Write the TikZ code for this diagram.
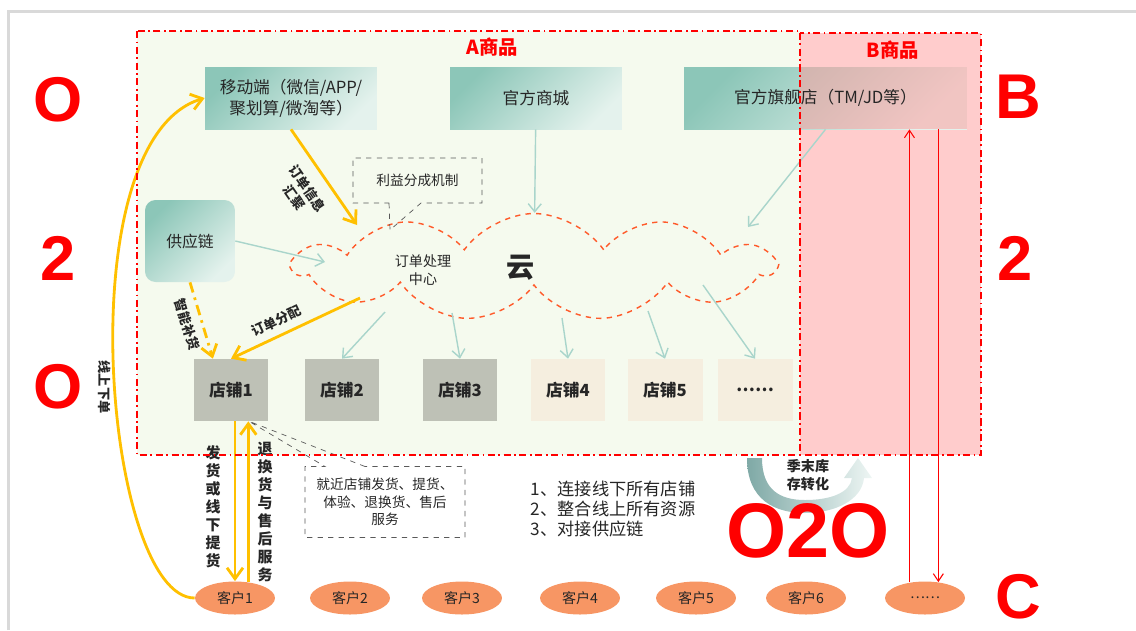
\documentclass[tikz,border=0pt]{standalone}
\usepackage{fontspec}
\setmainfont{Noto Sans CJK SC}
\newfontfamily\bigfont{Liberation Sans}
\usepackage{tikz}
\usetikzlibrary{shapes.geometric, shapes.symbols, shapes.callouts, arrows.meta, positioning, calc}

\definecolor{bgA}{HTML}{F5FAEE}
\definecolor{bgB}{HTML}{FFCCCC}
\definecolor{tealdark}{HTML}{8CC6B8}
\definecolor{teallight}{HTML}{E4F2ED}
\definecolor{storegray}{HTML}{BEC1B6}
\definecolor{storebeige}{HTML}{F5EEDF}
\definecolor{custorange}{HTML}{F79664}
\definecolor{arrteal}{HTML}{A9D5CB}
\definecolor{arryel}{HTML}{FFC000}
\definecolor{cloudline}{HTML}{FF5A2A}
\definecolor{txtdark}{HTML}{262626}
\definecolor{turndark}{HTML}{7FA9A6}
\definecolor{turnlight}{HTML}{EEF6F4}

\begin{document}
\begin{tikzpicture}[
    x=0.02cm, y=-0.02cm,
    every node/.style={text=txtdark, inner sep=2pt},
    topbox/.style={rectangle, top color=tealdark, bottom color=teallight, shading angle=45,
                   minimum height=1.24cm, align=center, font=\fontsize{9.5}{12}\selectfont},
    store/.style={rectangle, fill=#1, minimum width=1.5cm, minimum height=1.24cm,
                  font=\fontsize{9.5}{12}\selectfont\bfseries},
    cust/.style={ellipse, fill=custorange, minimum width=1.6cm, minimum height=0.66cm,
                 inner sep=0pt, font=\fontsize{8}{10}\selectfont},
    tarr/.style={-{Straight Barb[length=1.6mm,width=2.6mm]}, draw=arrteal, line width=0.8pt},
    yarr/.style={-{Straight Barb[length=2.2mm,width=3.2mm]}, draw=arryel, line width=1.6pt},
    rarr/.style={-{Straight Barb[length=1.5mm,width=2mm]}, draw=red, line width=0.6pt},
    region/.style={draw=red, dash pattern=on 4pt off 2pt on 1pt off 2pt, line width=0.6pt},
    note/.style={rectangle callout, draw=black!65, dashed, align=center,
                 font=\fontsize{7.8}{10}\selectfont},
    albl/.style={font=\fontsize{7.5}{9}\selectfont\bfseries, align=center, inner sep=4pt},
    stack/.style={font=\fontsize{8.5}{10.2}\selectfont\bfseries, align=center},
    bigletter/.style={text=red, font=\bigfont\fontsize{36}{36}\selectfont\bfseries},
]
    \useasboundingbox (0,0) rectangle (1136,630);
    \draw[black!15, line width=1.2pt] (8.5,630) -- (8.5,11.5) -- (1136,11.5);

    % A / B goods areas
    \fill[bgA] (137,31) rectangle (800,455);
    \fill[bgB] (800,33) rectangle (981,455);
    \node[text=red, font=\fontsize{11}{13}\selectfont\bfseries] (lblA) at (492,47) {A商品};
    \node[text=red, font=\fontsize{11}{13}\selectfont\bfseries] (lblB) at (893,50) {B商品};

    % channels
    \node[topbox, minimum width=3.44cm] (mobile) at (291,98) {移动端（微信/APP/\\聚划算/微淘等）};
    \node[topbox, minimum width=3.44cm] (mall) at (536,98) {官方商城};
    \node[topbox, minimum width=5.66cm,
          path picture={\fill[red!40, fill opacity=0.5]
              ($(path picture bounding box.south west)+(116,0)$) rectangle (path picture bounding box.north east);}]
          (flagship) at (825.5,98) {官方旗舰店（TM/JD等）};

    \node[rectangle, rounded corners=6pt, top color=tealdark, bottom color=teallight, shading angle=45,
          minimum width=1.8cm, minimum height=1.64cm, font=\fontsize{9}{11}\selectfont] (supply) at (190,241) {供应链};

    % cloud
    \node[cloud, cloud puffs=11, cloud puff arc=110, cloud ignores aspect, draw=cloudline, dashed,
          line width=0.8pt, fill=bgA, minimum width=9.6cm, minimum height=2.14cm] (cloud) at (534,267) {};
    \node[font=\fontsize{8}{10}\selectfont, align=center] (center) at (423,270) {订单处理\\中心};
    \node[font=\fontsize{16}{16}\selectfont\bfseries] (yun) at (521,268) {云};

    \node[note, minimum width=2.58cm, minimum height=0.9cm,
          callout absolute pointer={($(cloud.center)+(-144,-37)$)},
          callout pointer width=0.64cm] (share) at (417.5,180.5) {利益分成机制};

    % stores
    \node[store=storegray] (s1) at (231,390) {店铺1};
    \node[store=storegray] (s2) at (342,390) {店铺2};
    \node[store=storegray] (s3) at (460,390) {店铺3};
    \node[store=storebeige] (s4) at (568,390) {店铺4};
    \node[store=storebeige] (s5) at (665,390) {店铺5};
    \node[store=storebeige] (s6) at (755,390) {……};

    % customers
    \node[cust] (c1) at (235,598) {客户1};
    \node[cust] (c2) at (350,598) {客户2};
    \node[cust] (c3) at (462,598) {客户3};
    \node[cust] (c4) at (580,598) {客户4};
    \node[cust] (c5) at (696,598) {客户5};
    \node[cust] (c6) at (806,598) {客户6};
    \node[cust] (c7) at (925,598) {……};

    % flows
    \draw[tarr] (mall) -- (cloud);
    \draw[tarr] (flagship.south) -- ($(cloud.center)+(214,-40)$);
    \draw[tarr] (supply.east) -- ($(cloud.center)+(-209,-5)$);
    \draw[tarr] ($(cloud.center)+(-149,45)$) -- (s2.north);
    \draw[tarr] ($(cloud.center)+(-82,46)$) -- (s3.north);
    \draw[tarr] ($(cloud.center)+(28,51)$) -- (s4.north);
    \draw[tarr] ($(cloud.center)+(114,44)$) -- (s5.north);
    \draw[tarr] ($(cloud.center)+(169,18)$) -- (s6.north);

    \draw[yarr] (mobile.south) -- node[albl, sloped, below, inner sep=7pt] {订单信息\\汇聚} ($(cloud.center)+(-177,-42)$);
    \draw[yarr] ($(cloud.center)+(-174,31)$) -- node[albl, sloped, above, pos=0.6] {订单分配} (s1.north);
    \draw[yarr, dash pattern=on 6pt off 3pt on 1.5pt off 3pt] (supply.south) -- node[albl, sloped, below] {智能补货} (s1.120);
    \draw[yarr] (c1.north |- s1.south) -- (c1.north);
    \draw[yarr] (c1.50) -- (c1.50 |- s1.south);
    \draw[yarr] (c1.west) .. controls (105,598) and (65,140) .. (mobile.west);

    \node[stack] (ship) at (213,507) {发\\货\\或\\线\\下\\提\\货};
    \node[stack] (service) at (265,512) {退\\换\\货\\与\\售\\后\\服\\务};
    \node[albl, rotate=-90] (online) at (105,387) {线上下单};

    \node[note, minimum width=3.2cm, minimum height=1.42cm, callout absolute pointer={(s1.-60)},
          callout pointer width=0.8cm] (nearby) at (385,502) {就近店铺发货、提货、\\体验、退换货、售后\\服务};

    \node[align=left, anchor=west, font=\fontsize{9.8}{11.4}\selectfont] (goals) at (527,509)
        {1、连接线下所有店铺\\2、整合线上所有资源\\3、对接供应链};

    % season-end stock turn
    \shade[left color=turndark, right color=turnlight]
        (747,458) .. controls (747,500) and (775,513) .. (805,513)
        .. controls (835,513) and (862,500) .. (864,478) -- (872,478) -- (858,458) -- (844,478) -- (852,478)
        .. controls (850,493) and (830,500) .. (805,500)
        .. controls (780,500) and (762,490) .. (762,458) -- cycle;
    \node[font=\fontsize{8}{10}\selectfont\bfseries, align=center] (turn) at (808,475) {季末库\\存转化};

    \draw[rarr] (c7.135) -- (c7.135 |- flagship.south);
    \draw[rarr] (c7.50 |- flagship.south) -- (c7.50);

    \draw[region] (137,31) rectangle (800,455);
    \draw[region] (800,33) rectangle (981,455);

    % O2O / B2C letters
    \node[bigletter] (o1) at (58,100) {O};
    \node[bigletter] (two1) at (58,258) {2};
    \node[bigletter] (o2) at (58,387) {O};
    \node[bigletter] (b) at (1018,97) {B};
    \node[bigletter] (two2) at (1015,258) {2};
    \node[bigletter] (c) at (1018,597) {C};
    \node[bigletter, font=\bigfont\fontsize{44}{44}\selectfont\bfseries] (o2o) at (808,531) {O2O};
\end{tikzpicture}
\end{document}
